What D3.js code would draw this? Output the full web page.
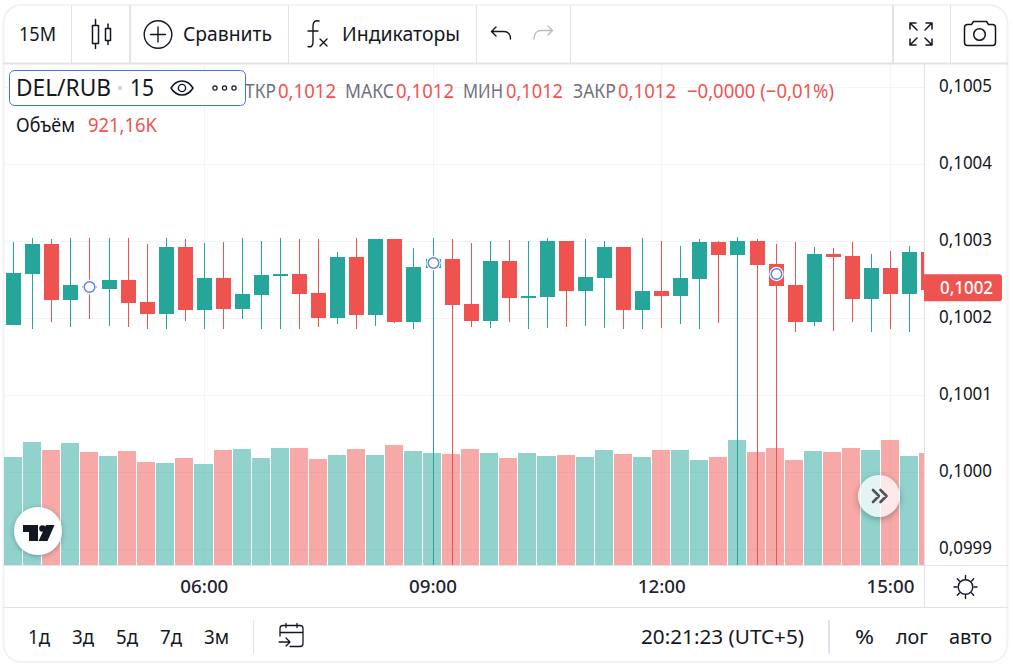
<!DOCTYPE html>
<html lang="ru">
<head>
<meta charset="utf-8">
<title>DEL/RUB</title>
<script src="https://cdnjs.cloudflare.com/ajax/libs/d3/7.9.0/d3.min.js"></script>
<style>
  html, body { margin: 0; padding: 0; background: #fff; }
  svg { display: block; }
  text { font-family: "Noto Sans", sans-serif; }
</style>
</head>
<body>
<svg id="chart" width="1013" height="665"></svg>
<script>
// 15-minute DEL/RUB bars, oldest first
const opens = [0.1001909,0.1002571,0.1002961,0.1002234,0.1002411,0.1002376,0.1002493,0.1002208,0.1002052,0.1002922,
  0.1002104,0.1002519,0.1002117,0.1002299,0.1002545,0.1002571,0.1002325,0.1002000,0.1002792,0.1002039,
  0.1003026,0.1001948,0.1002649,0.1002766,0.1002182,0.1001961,0.1002740,0.1002260,0.1002273,0.1003000,
  0.1002350,0.1002519,0.1002922,0.1002104,0.1002350,0.1002286,0.1002506,0.1002987,0.1002818,0.1003000,
  0.1002701,0.1002428,0.1001948,0.1002831,0.1002805,0.1002247,0.1002649,0.1002312,0.1002857];
const highs = [0.1002987,0.1003039,0.1003026,0.1003039,0.1003039,0.1003039,0.1003039,0.1002961,0.1003039,0.1003026,
  0.1002974,0.1002987,0.1003039,0.1003000,0.1003039,0.1003026,0.1003026,0.1002857,0.1003039,0.1003026,
  0.1003026,0.1002909,0.1003039,0.1003026,0.1002974,0.1003000,0.1003013,0.1003000,0.1003039,0.1003000,
  0.1003026,0.1003000,0.1002922,0.1003039,0.1003000,0.1002935,0.1003026,0.1003000,0.1003052,0.1003026,
  0.1002961,0.1002987,0.1002922,0.1002909,0.1002987,0.1002831,0.1002870,0.1002935,0.1003000];
const lows = [0.1001909,0.1001857,0.1001948,0.1001883,0.1001987,0.1001896,0.1001883,0.1001857,0.1001857,0.1001961,
  0.1001857,0.1001857,0.1001987,0.1001857,0.1001857,0.1001857,0.1001883,0.1001922,0.1001857,0.1001896,
  0.1001935,0.1001857,0.09987,0.09987,0.1001883,0.1001870,0.1001948,0.1001857,0.1001870,0.1001883,
  0.1001896,0.1001870,0.1001857,0.1001857,0.1001870,0.1001922,0.1001857,0.1001935,0.09987,0.09987,
  0.09987,0.1001818,0.1001896,0.1001831,0.1001948,0.1001818,0.1001857,0.1001818,0.1001900];
const closes = [0.1002584,0.1002961,0.1002234,0.1002428,0.1002385,0.1002493,0.1002195,0.1002052,0.1002922,0.1002104,
  0.1002519,0.1002117,0.1002312,0.1002558,0.1002571,0.1002312,0.1002000,0.1002792,0.1002039,0.1003026,
  0.1001948,0.1002662,0.1002762,0.1002169,0.1001961,0.1002740,0.1002260,0.1002286,0.1003000,0.1002350,
  0.1002532,0.1002922,0.1002104,0.1002350,0.1002286,0.1002519,0.1002987,0.1002818,0.1003000,0.1002688,
  0.1002415,0.1001948,0.1002831,0.1002792,0.1002247,0.1002649,0.1002312,0.1002857,0.1002363];
// Traded volume per bar, thousands
const volumes = [888.3,1011.7,945.9,1003.5,929.4,896.5,937.7,847.2,839.0,880.1,
  830.7,945.9,954.1,880.1,962.3,962.3,871.9,904.8,954.1,904.8,
  987.0,937.7,921.2,913.0,954.1,921.2,880.1,921.2,896.5,904.8,
  888.3,945.9,913.0,888.3,945.9,945.9,863.6,888.3,1028.1,929.4,
  962.3,863.6,937.7,929.4,962.3,945.9,1028.1,896.5,921.16];
// Blue event markers: bar index and price level
const markerBars = [4, 22, 40];
const markerPrices = [0.1002403, 0.1002714, 0.1002571];

const priceTicks = [0.0999, 0.1000, 0.1001, 0.1002, 0.1003, 0.1004, 0.1005];
const timeTickBars = [10, 22, 34, 46];
const timeTickLabels = ["06:00", "09:00", "12:00", "15:00"];
const lastPrice = 0.10024;

const COLOR_UP = "#26a69a", COLOR_DOWN = "#ef5350";
const INK = "#131722", RULE = "#e0e3eb", GRID = "#f3f4f6";
const pane = { left: 4, right: 924, top: 64, bottom: 565 };

const svg = d3.select("#chart");
const bars = d3.range(opens.length);
const isUp = i => closes[i] >= opens[i];
const tone = i => isUp(i) ? COLOR_UP : COLOR_DOWN;

const x = d3.scaleLinear([0, 48], [13.26, 928.02]);
const y = d3.scaleLinear([0.0999, 0.1005], [549, 87]);
const yVol = d3.scaleLinear([0, 1000], [565, 443.4]);
const ruRu = d3.formatLocale({ decimal: ",", thousands: " ", grouping: [3], currency: ["", " ₽"] });
const priceFmt = ruRu.format(".4f");

const defs = svg.append("defs");
defs.append("clipPath").attr("id", "paneClip").append("rect")
  .attr("x", pane.left).attr("y", pane.top)
  .attr("width", pane.right - pane.left).attr("height", pane.bottom - pane.top);
const softShadow = defs.append("filter").attr("id", "softShadow")
  .attr("x", "-50%").attr("y", "-50%").attr("width", "200%").attr("height", "200%");
softShadow.append("feDropShadow").attr("dx", 0).attr("dy", 1).attr("stdDeviation", 2.5)
  .attr("flood-color", "#2a3a45").attr("flood-opacity", 0.4);
const ringShadow = defs.append("filter").attr("id", "outerShadow")
  .attr("x", "-50%").attr("y", "-50%").attr("width", "200%").attr("height", "200%");
ringShadow.append("feGaussianBlur").attr("in", "SourceAlpha").attr("stdDeviation", 3).attr("result", "b");
ringShadow.append("feOffset").attr("in", "b").attr("dy", 2).attr("result", "o");
ringShadow.append("feFlood").attr("flood-color", "#2a3a45").attr("flood-opacity", 0.4).attr("result", "f");
ringShadow.append("feComposite").attr("in", "f").attr("in2", "o").attr("operator", "in").attr("result", "s");
ringShadow.append("feComposite").attr("in", "s").attr("in2", "SourceAlpha").attr("operator", "out");

// Text helper: y is the optical centre; width pins the rendered run length
function label(parent, px, cy, str, o = {}) {
  const size = o.size || 17;
  const t = parent.append("text")
    .attr("x", px).attr("y", cy + size * 0.36)
    .attr("font-size", size)
    .attr("fill", o.fill || INK)
    .attr("font-weight", o.weight || 400)
    .attr("text-anchor", o.anchor || "start")
    .text(str);
  if (o.width) t.attr("textLength", o.width).attr("lengthAdjust", "spacingAndGlyphs");
  return t;
}

// Card outline
svg.append("rect").attr("x", 3.5).attr("y", 5).attr("width", 1004).attr("height", 657)
  .attr("rx", 18).attr("fill", "#fff").attr("stroke", "#f0f2f6").attr("stroke-width", 2);

// Grid
const grid = svg.append("g").attr("clip-path", "url(#paneClip)");
grid.selectAll("rect.h").data(priceTicks).join("rect").attr("class", "h")
  .attr("x", pane.left).attr("width", pane.right - pane.left)
  .attr("y", d => Math.round(y(d))).attr("height", 1).attr("fill", GRID);
grid.selectAll("rect.v").data(timeTickBars).join("rect").attr("class", "v")
  .attr("y", pane.top).attr("height", pane.bottom - pane.top)
  .attr("x", d => Math.round(x(d))).attr("width", 1).attr("fill", GRID);

const plot = svg.append("g").attr("clip-path", "url(#paneClip)");

// Volume histogram
const halfStep = (x(1) - x(0)) / 2;
plot.append("g").selectAll("rect").data(bars).join("rect")
  .attr("x", i => Math.round(x(i) + 0.15 - halfStep))
  .attr("width", i => Math.round(x(i) + 0.15 + halfStep) - 1 - Math.round(x(i) + 0.15 - halfStep))
  .attr("y", i => Math.round(yVol(volumes[i])))
  .attr("height", i => yVol(0) - Math.round(yVol(volumes[i])))
  .attr("fill", tone).attr("fill-opacity", 0.5);

// Candles: wick, then body
plot.append("g").selectAll("rect").data(bars).join("rect")
  .attr("x", i => Math.round(x(i))).attr("width", 1)
  .attr("y", i => Math.round(y(highs[i])))
  .attr("height", i => Math.round(y(lows[i])) - Math.round(y(highs[i])))
  .attr("fill", tone);
plot.append("g").selectAll("rect").data(bars).join("rect")
  .attr("x", i => Math.round(x(i)) - 7).attr("width", 15)
  .attr("y", i => Math.round(y(Math.max(opens[i], closes[i]))))
  .attr("height", i => Math.max(2, Math.round(y(Math.min(opens[i], closes[i]))) - Math.round(y(Math.max(opens[i], closes[i])))))
  .attr("fill", tone);

// Event markers: blue ring on a white halo
const markers = plot.append("g");
markers.selectAll("circle.halo").data(markerBars).join("circle").attr("class", "halo")
  .attr("cx", i => Math.round(x(i)) + 0.5)
  .attr("cy", (_, k) => y(markerPrices[k]))
  .attr("r", 7.2).attr("fill", "#fff");
markers.selectAll("circle.ring").data(markerBars).join("circle").attr("class", "ring")
  .attr("cx", i => Math.round(x(i)) + 0.5)
  .attr("cy", (_, k) => y(markerPrices[k]))
  .attr("r", 5.3).attr("fill", "#fff").attr("stroke", "#5b83ef").attr("stroke-width", 1.5);

// Pane rules
svg.append("rect").attr("x", 3).attr("y", 62.5).attr("width", 1005).attr("height", 2).attr("fill", RULE);
svg.append("rect").attr("x", 3).attr("y", 565).attr("width", 1005).attr("height", 1).attr("fill", RULE);
svg.append("rect").attr("x", 3).attr("y", 607).attr("width", 1005).attr("height", 1).attr("fill", RULE);
svg.append("rect").attr("x", 924).attr("y", 64).attr("width", 1).attr("height", 543).attr("fill", RULE);

// Price axis
const yAxis = svg.append("g").attr("transform", "translate(992,-1)")
  .call(d3.axisLeft(y).tickValues(priceTicks).tickFormat(priceFmt).tickSize(0).tickPadding(0));
yAxis.select(".domain").remove();
yAxis.selectAll("text").attr("font-size", 17.5).attr("fill", INK)
  .attr("font-family", '"Noto Sans", sans-serif')
  .attr("textLength", 53).attr("lengthAdjust", "spacingAndGlyphs");

// Current price tag
const tagY = y(lastPrice);
svg.append("path")
  .attr("d", `M924,${tagY - 13}H999a3,3 0 0 1 3,3V${tagY + 11}a3,3 0 0 1 -3,3H924Z`)
  .attr("fill", COLOR_DOWN);
label(svg, 940, tagY, priceFmt(lastPrice), { size: 17.5, fill: "#fff", weight: 500, width: 53 });

// Time axis
const xAxis = svg.append("g").attr("transform", "translate(0,580.7)")
  .call(d3.axisBottom(x).tickValues(timeTickBars)
    .tickFormat(d => timeTickLabels[timeTickBars.indexOf(d)]).tickSize(0).tickPadding(0));
xAxis.select(".domain").remove();
xAxis.selectAll("text").attr("font-size", 18).attr("font-weight", 500).attr("fill", "#1f2430")
  .attr("font-family", '"Noto Sans", sans-serif')
  .attr("textLength", 48).attr("lengthAdjust", "spacingAndGlyphs");

// Top toolbar
const toolbar = svg.append("g");
[[71, 1], [129, 2], [288, 1], [476, 1], [570, 1], [892, 2], [950, 1]].forEach(([sx, w]) =>
  toolbar.append("rect").attr("x", sx).attr("y", 5).attr("width", w).attr("height", 58).attr("fill", RULE));
label(toolbar, 19, 34, "15M", { size: 20.5, width: 37 });

const strokeIcon = (parent, d, color = INK, w = 1.5) =>
  parent.append("path").attr("d", d).attr("fill", "none").attr("stroke", color)
    .attr("stroke-width", w).attr("stroke-linecap", "round").attr("stroke-linejoin", "round");

strokeIcon(toolbar, "M92.5,25.5h6v18h-6zM95.5,19.5v6M95.5,43.5v5M105.5,28.5h5v12h-5zM108,24v4.5M108,40.5v4");
toolbar.append("circle").attr("cx", 158).attr("cy", 34.5).attr("r", 13.8)
  .attr("fill", "none").attr("stroke", INK).attr("stroke-width", 1.4);
strokeIcon(toolbar, "M158,27v15M150.5,34.5h15", INK, 1.4);
label(toolbar, 183, 34, "Сравнить", { size: 20.5, width: 89 });
strokeIcon(toolbar, "M319,21c-4,-1 -6,1 -6,5v16c0,4 -2,5.5 -5,4.5M308,31h10M320,39l7,7M327,39l-7,7", INK, 1.4);
label(toolbar, 342, 34, "Индикаторы", { size: 20.5, width: 118 });
strokeIcon(toolbar, "M496,27l-4.5,4.5l4.5,4.5M492,31.5h12c4,0 6.5,3 6.5,7.5", INK, 1.4);
strokeIcon(toolbar, "M548,26l4.5,4.5l-4.5,4.5M552,30.5h-11c-4,0 -7,3 -7,8.5", "#b9bcc4", 1.4);
strokeIcon(toolbar, "M910,23h6M910,23v6M910,23l7,7M932,23h-6M932,23v6M932,23l-7,7M910,45h6M910,45v-6M910,45l7,-7M932,45h-6M932,45v-6M932,45l-7,-7");
strokeIcon(toolbar, "M964.5,27.5a3,3 0 0 1 3,-3h4l2,-3h13l2,3h4a3,3 0 0 1 3,3v15a3,3 0 0 1 -3,3h-25a3,3 0 0 1 -3,-3z");
toolbar.append("circle").attr("cx", 979.5).attr("cy", 34.5).attr("r", 5.8)
  .attr("fill", "none").attr("stroke", INK).attr("stroke-width", 1.5);

// Legend rows
const legend = svg.append("g");
const GREY = "#6f727d";
[["ТКР", 245, 31, GREY], ["0,1012", 278, 58, COLOR_DOWN],
 ["МАКС", 345, 49, GREY], ["0,1012", 396, 58, COLOR_DOWN],
 ["МИН", 463, 40, GREY], ["0,1012", 506, 57, COLOR_DOWN],
 ["ЗАКР", 573, 43, GREY], ["0,1012", 618, 58, COLOR_DOWN],
 ["−0,0000 (−0,01%)", 687, 147, COLOR_DOWN]].forEach(([s, px, w, c]) =>
  label(legend, px, 91, s, { size: 19.5, fill: c, width: w }));
label(legend, 16, 125, "Объём", { size: 19, width: 59 });
label(legend, 88, 125, "921,16K", { size: 19.5, fill: COLOR_DOWN, width: 69 });

legend.append("rect").attr("x", 9.5).attr("y", 70.5).attr("width", 236).attr("height", 35)
  .attr("rx", 5).attr("fill", "#fff").attr("stroke", "#3f74e6").attr("stroke-width", 1);
label(legend, 16, 88, "DEL/RUB", { size: 23, width: 95 });
legend.append("circle").attr("cx", 120).attr("cy", 88).attr("r", 2).attr("fill", "#c9ccd3");
label(legend, 130, 88, "15", { size: 23, width: 24 });
strokeIcon(legend, "M171,88c3,-5 7,-7 11,-7s8,2 11,7c-3,5 -7,7 -11,7s-8,-2 -11,-7z");
legend.append("circle").attr("cx", 182).attr("cy", 88).attr("r", 3.6)
  .attr("fill", "none").attr("stroke", INK).attr("stroke-width", 1.4);
legend.selectAll("circle.dot").data([215, 224.5, 234]).join("circle").attr("class", "dot")
  .attr("cx", d => d).attr("cy", 88).attr("r", 2.1)
  .attr("fill", "none").attr("stroke", INK).attr("stroke-width", 1.2);

// Brand badge
const badge = svg.append("g");
badge.append("circle").attr("cx", 38).attr("cy", 531).attr("r", 24)
  .attr("fill", "#fff").attr("filter", "url(#softShadow)");
badge.append("path").attr("fill", INK)
  .attr("d", "M23,525H38V541H29V532H23Z");
badge.append("circle").attr("cx", 42.5).attr("cy", 528.5).attr("r", 3.3).attr("fill", INK);
badge.append("path").attr("fill", INK).attr("d", "M46,525H54.5L47.5,541H38.5Z");

// Scroll-to-latest button
const scroller = svg.append("g");
scroller.append("circle").attr("cx", 879).attr("cy", 496).attr("r", 21)
  .attr("fill", "#000").attr("filter", "url(#outerShadow)");
scroller.append("circle").attr("cx", 879).attr("cy", 496).attr("r", 21)
  .attr("fill", "#fff").attr("fill-opacity", 0.75);
strokeIcon(scroller, "M873,490l6,6l-6,6M880.5,490l6,6l-6,6", "#50535e", 2.6);

// Light/dark switch
const sun = svg.append("g");
sun.append("circle").attr("cx", 965.5).attr("cy", 587).attr("r", 7.3)
  .attr("fill", "none").attr("stroke", INK).attr("stroke-width", 1.4);
strokeIcon(sun, "M965.5,575.5v3M965.5,595.5v3M954,587h3M974,587h3M957.3,578.8l2.1,2.1M971.6,593.1l2.1,2.1M973.7,578.8l-2.1,2.1M959.4,593.1l-2.1,2.1", INK, 1.4);

// Bottom toolbar
const foot = svg.append("g");
[["1д", 28, 22], ["3д", 72, 22], ["5д", 116, 22], ["7д", 160, 22], ["3м", 204, 25]].forEach(([s, px, w]) =>
  label(foot, px, 637, s, { size: 20, width: w }));
foot.append("rect").attr("x", 253).attr("y", 620).attr("width", 1).attr("height", 34).attr("fill", RULE);
strokeIcon(foot, "M280,636v-7.5a3,3 0 0 1 3,-3h17a3,3 0 0 1 3,3v15a3,3 0 0 1 -3,3h-10M280,632.5h23M286,623.5v4M297,623.5v4M279,642h11M286,638l4,4l-4,4", INK, 1.3);
label(foot, 641, 637, "20:21:23 (UTC+5)", { size: 20, width: 163 });
foot.append("rect").attr("x", 828).attr("y", 620).attr("width", 2).attr("height", 34).attr("fill", RULE);
label(foot, 855, 637, "%", { size: 20, width: 19 });
label(foot, 896, 637, "лог", { size: 20, width: 32 });
label(foot, 949, 637, "авто", { size: 20, width: 43 });
</script>
</body>
</html>
